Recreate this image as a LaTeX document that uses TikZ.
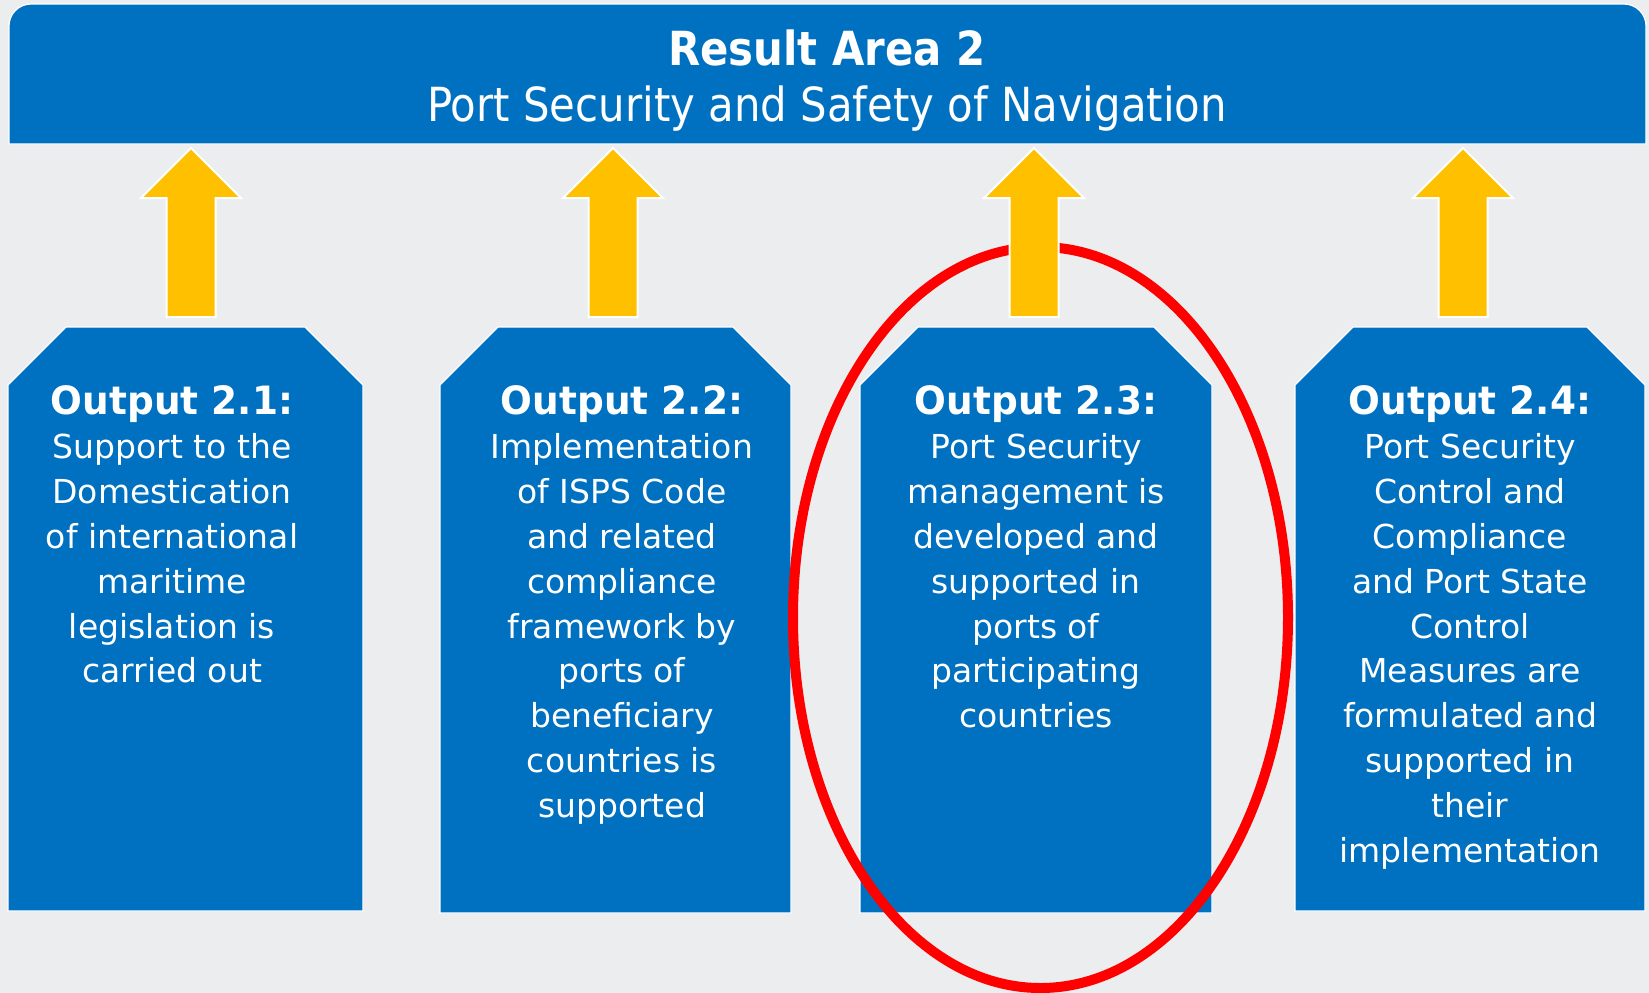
\documentclass[tikz,border=0pt]{standalone}
\usepackage{fontspec}
\setmainfont{DejaVu Sans}
\newfontfamily\bannerfont{DejaVu Sans}[FakeStretch=0.89]
\newfontfamily\outfont{DejaVu Sans}[FakeStretch=0.96]
\definecolor{bgc}{RGB}{236,237,239}
\definecolor{blu}{RGB}{0,112,192}
\definecolor{gold}{RGB}{255,192,0}
\definecolor{redl}{RGB}{255,0,0}
\tikzset{
  blockbox/.style={fill=blu, draw=white, line width=1.2pt},
  uparrow/.style={fill=gold, draw=white, line width=2pt},
  bodytext/.style={text=white, align=center, inner sep=0pt, anchor=north,
    font=\fontsize{33}{44.8}\selectfont},
  outtitle/.style={},
}
\newcommand{\outhead}[1]{{\outfont\bfseries\fontsize{39}{44.8}\selectfont #1}}
\begin{document}
\begin{tikzpicture}[x=1pt,y=-1pt]
\fill[bgc] (0,0) rectangle (1649,993);
\useasboundingbox (0,0) rectangle (1649,993);
% banner
\draw[blockbox] (9,144) -- (9,26) arc (180:270:22) -- (1624,4) arc (270:360:22) -- (1646,144) -- cycle;
\node[text=white, align=center, inner sep=0pt, anchor=north,
  font=\bannerfont\fontsize{47}{56}\selectfont] (banner) at (827,30)
  {{\bfseries Result Area 2}\\Port Security and Safety of Navigation};
% output boxes
\foreach \l/\r/\b in {8/363/911, 440/791/913, 860/1212/913, 1295/1645/911}
  \draw[blockbox] (\l,385) -- (\l+58,327) -- (\r-58,327) -- (\r,385) -- (\r,\b) -- (\l,\b) -- cycle;
\node[bodytext] (o1) at (172,385) {\outhead{Output 2.1:}\\Support to the\\Domestication\\of international\\maritime\\legislation is\\carried out};
\node[bodytext] (o2) at (622,385) {\outhead{Output 2.2:}\\Implementation\\of ISPS Code\\and related\\compliance\\framework by\\ports of\\beneficiary\\countries is\\supported};
\node[bodytext] (o3) at (1036,385) {\outhead{Output 2.3:}\\Port Security\\management is\\developed and\\supported in\\ports of\\participating\\countries};
\node[bodytext] (o4) at (1470,385) {\outhead{Output 2.4:}\\Port Security\\Control and\\Compliance\\and Port State\\Control\\Measures are\\formulated and\\supported in\\their\\implementation};
% highlight ellipse
\draw[redl, line width=10pt] (1040.5,617.5) ellipse [x radius=247.5, y radius=370.5];
% arrows
\foreach \c in {191,613,1034,1463}
  \draw[uparrow] (\c,148) -- (\c+50,198) -- (\c+24.5,198) -- (\c+24.5,317) -- (\c-24.5,317) -- (\c-24.5,198) -- (\c-50,198) -- cycle;
\end{tikzpicture}
\end{document}
